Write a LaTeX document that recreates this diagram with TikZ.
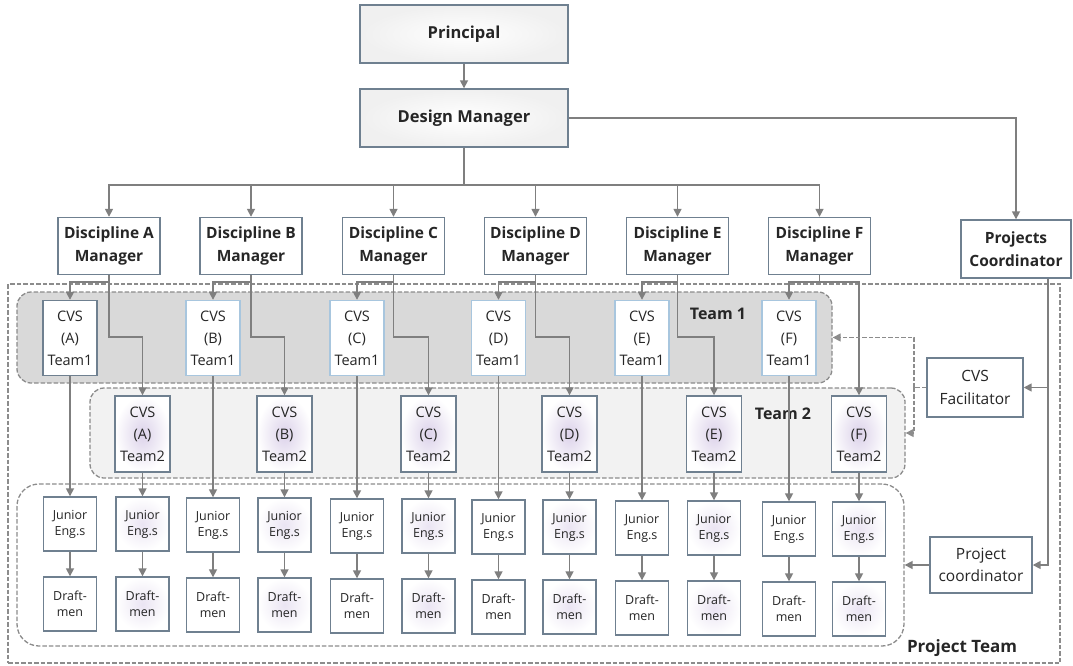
\documentclass[tikz,border=0pt]{standalone}
\usepackage{fontspec}
\setmainfont{Open Sans}
\usetikzlibrary{arrows.meta}
\definecolor{lineg}{HTML}{7F7F7F}
\definecolor{dashg}{HTML}{8C8C8C}
\definecolor{slate}{HTML}{6F8090}
\definecolor{lblue}{HTML}{A8C6DE}
\definecolor{tonefill}{HTML}{D9D9D9}
\definecolor{ttwofill}{HTML}{F2F2F2}
\definecolor{lav}{HTML}{DCD2EA}
\definecolor{txt}{HTML}{262626}
\tikzset{
 ln/.style={draw=lineg, line width=1.6pt},
 arr/.style={ln, -{Triangle[length=8pt,width=8pt]}},
 dln/.style={draw=dashg, line width=1.3pt, dash pattern=on 4.5pt off 2pt},
 darr/.style={dln, -{Triangle[length=8pt,width=8pt]}},
 basebox/.style={draw=slate, line width=1.4pt, fill=white, inner sep=0pt, align=center, text=txt},
 topbox/.style={basebox, minimum width=208pt, minimum height=58pt, inner color=white, outer color=black!6, font=\bfseries\fontsize{16.5pt}{20pt}\selectfont},
 mgrbox/.style={basebox, minimum width=102pt, minimum height=57pt, font=\bfseries\fontsize{15.5pt}{22.5pt}\selectfont},
 tonebox/.style={basebox, minimum width=54pt, minimum height=75pt, font=\fontsize{14.5pt}{22pt}\selectfont},
 ttwobox/.style={basebox, minimum width=55pt, minimum height=76pt, inner color=lav, outer color=white, font=\fontsize{14.5pt}{22pt}\selectfont},
 jbox/.style={basebox, minimum width=53pt, minimum height=54pt, font=\fontsize{12.5pt}{16pt}\selectfont},
 jboxtwo/.style={jbox, inner color=lav!60, outer color=white},
 sidebox/.style={basebox, font=\fontsize{15.5pt}{22.5pt}\selectfont},
 grp/.style={dln, inner sep=0pt},
 lbl/.style={text=txt, font=\bfseries\fontsize{16pt}{20pt}\selectfont, inner sep=0pt},
}
\begin{document}
\begin{tikzpicture}[x=1pt,y=-1pt]
\useasboundingbox (0,0) rectangle (1073,665);
% containers
\node[grp, minimum width=1052pt, minimum height=379pt] (ptout) at (534,473.5) {};
\node[grp, fill=tonefill, rounded corners=14pt, minimum width=815pt, minimum height=91pt] (tonegrp) at (424.5,337.5) {};
\node[grp, fill=ttwofill, rounded corners=14pt, minimum width=815pt, minimum height=90pt] (ttwogrp) at (497.5,433) {};
\node[grp, fill=white, rounded corners=22pt, minimum width=887pt, minimum height=162pt] (ptin) at (460.5,565) {};
\node[lbl] (lone) at (718,314) {Team 1};
\node[lbl] (ltwo) at (783,414) {Team 2};
\node[lbl, font=\bfseries\fontsize{17pt}{20pt}\selectfont] (lpt) at (962,648) {Project Team};
% top
\node[topbox] (principal) at (464,34) {Principal};
\node[topbox] (design) at (464,118) {Design Manager};
\node[mgrbox, minimum width=110pt, minimum height=58pt] (pc) at (1016,249) {Projects\\Coordinator};
\node[sidebox, minimum width=96pt, minimum height=59pt] (fac) at (975,387.5) {CVS\\Facilitator};
\node[sidebox, minimum width=102pt, minimum height=56pt] (pco) at (981,565) {Project\\coordinator};
\coordinate (bus) at (464,185);
\draw[arr] (principal) -- (design);
\draw[ln] (design.south) -- (bus);
\draw[arr] (design.east) -| (pc.north);
% columns
\foreach \L/\xm/\xa/\xb/\k/\bc in {A/109/70/142.5/0/slate, B/251/213/284.5/1/lblue, C/393.5/357/428.5/2/lblue, D/535.5/498.5/569.5/3/lblue, E/677.5/642/714/4/lblue, F/819.5/789/859/5/lblue}{
  \node[mgrbox] (m\L) at (\xm,246) {Discipline \L\\Manager};
  \node[tonebox, draw=\bc] (t\L one) at (\xa,338) {CVS\\(\L)\\Team1};
  \node[ttwobox] (t\L two) at (\xb,434) {CVS\\(\L)\\Team2};
  \node[jbox] (j\L one) at (\xa,524+\k) {Junior\\Eng.s};
  \node[jboxtwo] (j\L two) at (\xb,524+\k) {Junior\\Eng.s};
  \node[jbox] (d\L one) at (\xa,604+\k) {Draft-\\men};
  \node[jboxtwo] (d\L two) at (\xb,604+\k) {Draft-\\men};
  \draw[arr] (bus) -| (m\L.north);
  \draw[arr] (m\L.south) -- ++(0,7) -| (t\L one.north);
  \draw[arr] (t\L one.south) -- (j\L one.north);
  \draw[arr] (t\L two.south) -- (j\L two.north);
  \draw[arr] (j\L one.south) -- (d\L one.north);
  \draw[arr] (j\L two.south) -- (d\L two.north);
}
\foreach \L in {A,B,C,D,E}{
  \draw[arr] (m\L.south) -- ++(0,62) -| (t\L two.north);
}
\draw[arr] (mF.south) -- ++(0,7) -| (tFtwo.north);
% side connections
\coordinate (pcdrop) at ([xshift=32pt]pc.south);
\draw[arr] (pcdrop) |- (fac.east);
\draw[arr] (pcdrop) |- (pco.east);
\draw[arr] (pco.west) -- (ptin.east);
\coordinate (dj) at (914,387.5);
\draw[dln] (fac.west) -- (dj);
\draw[darr] (dj) |- (tonegrp.east);
\draw[darr] (dj) |- (ttwogrp.east);
\end{tikzpicture}
\end{document}
